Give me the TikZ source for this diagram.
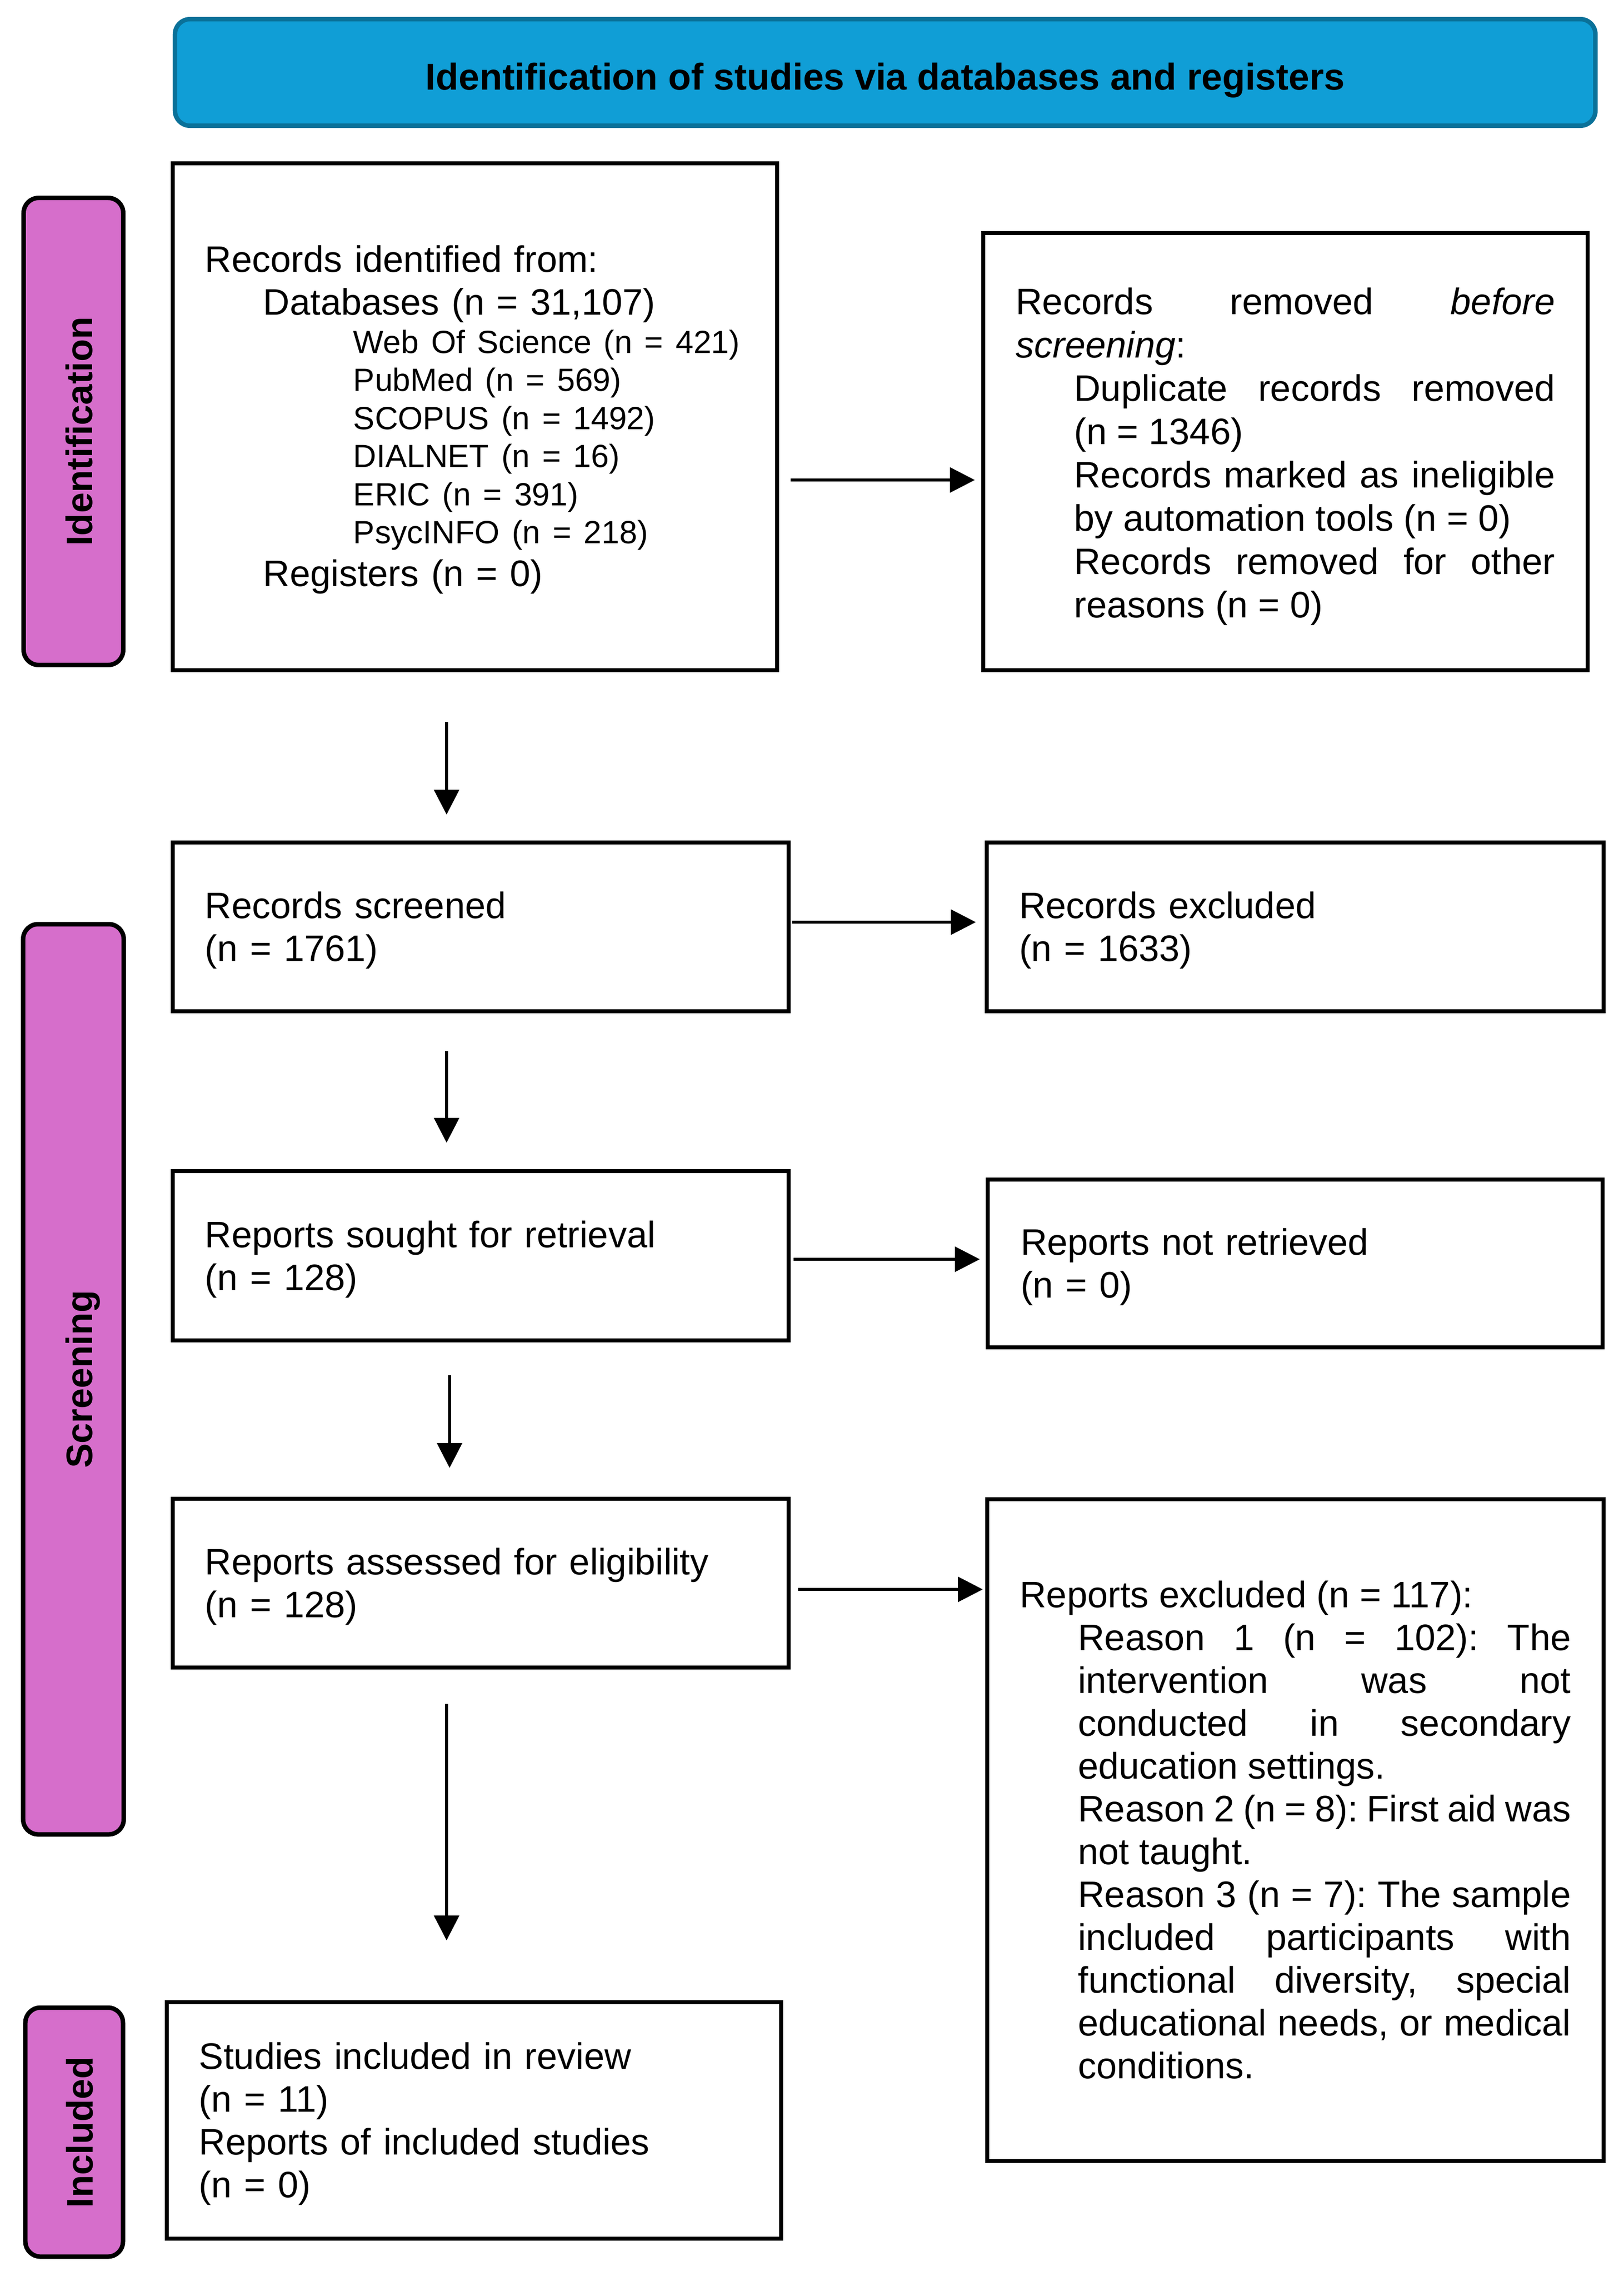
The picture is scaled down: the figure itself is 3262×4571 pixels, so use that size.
\documentclass[tikz,border=0pt]{standalone}
\usepackage{fontspec}
\setmainfont{Liberation Sans}
\usetikzlibrary{arrows.meta}
\definecolor{hdrfill}{HTML}{109ED6}
\definecolor{hdrdraw}{HTML}{0A7199}
\definecolor{phasefill}{HTML}{D66ECB}
\tolerance=10000
\hbadness=10000
\hyphenpenalty=10000
\exhyphenpenalty=10000
\frenchspacing
\begin{document}
\frenchspacing
\begin{tikzpicture}[x=0.2pt,y=-0.2pt,
  box/.style={draw=black, line width=1.6pt, rectangle, inner xsep=13pt, inner ysep=0pt,
    outer sep=0pt, font=\frenchspacing\fontsize{14.8}{17.2}\selectfont, anchor=center},
  phase/.style={draw=black, line width=1.8pt, fill=phasefill, rounded corners=6pt,
    outer sep=0pt, inner sep=0pt, text height=15pt, text depth=0pt,
    font=\bfseries\fontsize{14.8}{17}\selectfont},
  arr/.style={line width=1.1pt, -{Triangle[length=10pt,width=10pt]}}]
\fill[white] (0,0) rectangle (3262,4571);
\useasboundingbox (0,0) rectangle (3262,4571);

% header
\node[draw=hdrdraw, fill=hdrfill, line width=1.8pt, rounded corners=6pt, outer sep=0pt,
  minimum width=570.6pt, minimum height=42.8pt, text height=13.8pt, text depth=0pt,
  font=\bfseries\fontsize{15}{17}\selectfont]
  (hdr) at (1778,145.5) {Identification of studies via databases and registers};

% phase labels
\node[phase, rotate=90, minimum width=187.6pt, minimum height=40pt] (pid) at (147.5,866.5) {Identification};
\node[phase, rotate=90, minimum width=365.6pt, minimum height=40.4pt] (pscr) at (147.5,2770) {Screening};
\node[phase, rotate=90, minimum width=100pt, minimum height=39.2pt] (pinc) at (149,4282) {Included};

% boxes
\node[box, align=left, minimum width=242.8pt, minimum height=203.6pt, text width=216.8pt, text height=13.2pt] (b1) at (954,837) {%
Records identified from:\par
{\leftskip=23.4pt Databases (n = 31,107)\par}
{\fontsize{12.9}{15.3}\selectfont\leftskip=59.6pt Web Of Science (n = 421)\par PubMed (n = 569)\par SCOPUS (n = 1492)\par DIALNET (n = 16)\par ERIC (n = 391)\par PsycINFO (n = 218)\par}
{\leftskip=23.4pt Registers (n = 0)\par}};

\node[box, align=justify, minimum width=242.8pt, minimum height=175.6pt, text width=216.6pt, text height=14.8pt,
  font=\frenchspacing\fontsize{14.8}{17.4}\selectfont] (b2) at (2582,907) {%
Records removed \textit{before}\linebreak \textit{screening}:\par
{\leftskip=23.4pt Duplicate records removed\linebreak (n = 1346)\par
Records marked as ineligible\linebreak by automation tools (n = 0)\par
Records removed for other\linebreak reasons (n = 0)\par}};

\node[box, align=left, minimum width=247.4pt, minimum height=67.8pt, text width=221.4pt, text height=13.6pt] (b3) at (965.5,1861.5) {Records screened\\(n = 1761)};
\node[box, align=left, minimum width=247pt, minimum height=67.8pt, text width=221.8pt, text height=13.6pt] (b4) at (2601.5,1861.5) {Records excluded\\(n = 1633)};
\node[box, align=left, minimum width=247.4pt, minimum height=68pt, text width=221.4pt, text height=13.6pt] (b5) at (965.5,2522) {Reports sought for retrieval\\(n = 128)};
\node[box, align=left, minimum width=247pt, minimum height=67.4pt, text width=220.6pt, text height=13.6pt] (b6) at (2601.5,2537.5) {Reports not retrieved\\(n = 0)};
\node[box, align=left, minimum width=247.4pt, minimum height=67.8pt, text width=221.4pt, text height=13.6pt] (b7) at (965.5,3179.5) {Reports assessed for eligibility\\(n = 128)};

\node[box, align=justify, minimum width=247.6pt, minimum height=265.8pt, text width=221.4pt] (b8) at (2602,3675.5) {%
Reports excluded (n = 117):\par
{\leftskip=23.4pt Reason 1 (n = 102): The\linebreak intervention was not\linebreak conducted in secondary\linebreak education settings.\par
Reason 2 (n = 8): First aid was\linebreak not taught.\par
Reason 3 (n = 7): The sample\linebreak included participants with\linebreak functional diversity, special\linebreak educational needs, or medical\linebreak conditions.\par}};

\node[box, align=left, minimum width=246.8pt, minimum height=95pt, text width=220.8pt, text height=13.6pt] (b9) at (952,4258.5) {Studies included in review\\(n = 11)\\Reports of included studies\\(n = 0)};

% helper coordinates for connector alignment
\coordinate (cxa) at (897,0);
\coordinate (cxb) at (903,0);
\coordinate (ry1) at (0,964);
\coordinate (ry2) at (0,1852);
\coordinate (ry3) at (0,2529);
\coordinate (ry4) at (0,3192);

% vertical connectors
\draw[arr, shorten <=20.8pt, shorten >=11.2pt] (b1.south -| cxa) -- (b3.north -| cxa);
\draw[arr, shorten <=16pt, shorten >=11.4pt] (b3.south -| cxa) -- (b5.north -| cxa);
\draw[arr, shorten <=14pt, shorten >=12.4pt] (b5.south -| cxb) -- (b7.north -| cxb);
\draw[arr, shorten <=14.6pt, shorten >=24.8pt] (b7.south -| cxa) -- (b9.north -| cxa);

% horizontal connectors
\draw[arr, shorten <=5.4pt, shorten >=3.4pt] (b1.east |- ry1) -- (b2.west |- ry1);
\draw[arr, shorten <=1.4pt, shorten >=4.4pt] (b3.east |- ry2) -- (b4.west |- ry2);
\draw[arr, shorten <=2pt, shorten >=3.2pt] (b5.east |- ry3) -- (b6.west |- ry3);
\draw[arr, shorten <=3.8pt, shorten >=1.8pt] (b7.east |- ry4) -- (b8.west |- ry4);
\end{tikzpicture}
\end{document}
